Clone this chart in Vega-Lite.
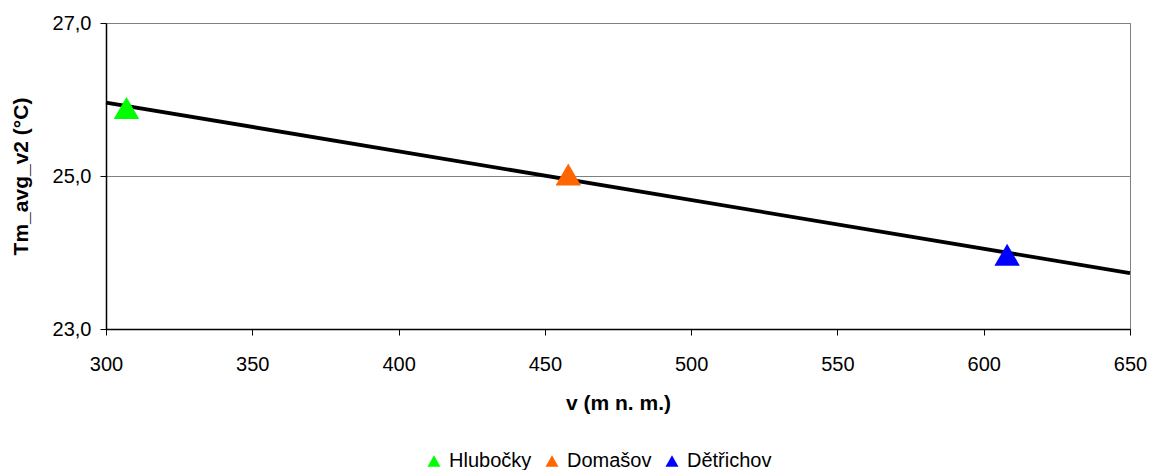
{
  "$schema": "https://vega.github.io/schema/vega-lite/v6.json",
  "width": 1024,
  "height": 306,
  "autosize": {"type": "none"},
  "padding": {"left": 106, "top": 23, "right": 19, "bottom": 141},
  "background": "white",
  "config": {
    "font": "Liberation Sans",
    "view": {"stroke": "#808080", "strokeWidth": 1}
  },
  "datasets": {
    "points": [
      {"station": "Hlubočky", "alt": 307, "temp": 25.89},
      {"station": "Domašov", "alt": 458, "temp": 25.02},
      {"station": "Dětřichov", "alt": 608, "temp": 23.97}
    ],
    "trend": [
      {"alt": 300, "temp": 25.96},
      {"alt": 650, "temp": 23.73}
    ]
  },
  "layer": [
    {
      "data": {"name": "trend"},
      "mark": {"type": "line", "color": "black", "strokeWidth": 3.8},
      "encoding": {
        "x": {
          "field": "alt", "type": "quantitative",
          "scale": {"domain": [300, 650], "nice": false, "zero": false},
          "axis": {
            "title": "v (m n. m.)",
            "values": [300, 350, 400, 450, 500, 550, 600, 650],
            "grid": false,
            "labelFlush": false,
            "labelOverlap": false,
            "domainColor": "black",
            "domainWidth": 1.5,
            "tickColor": "black",
            "tickSize": 6,
            "labelFontSize": 20,
            "labelColor": "black",
            "labelPadding": 19,
            "labelFont": "Liberation Sans",
            "titleFont": "Liberation Sans",
            "titleFontSize": 21,
            "titleFontWeight": "bold",
            "titleColor": "black",
            "titlePadding": 18
          }
        },
        "y": {
          "field": "temp", "type": "quantitative",
          "scale": {"domain": [23, 27], "nice": false, "zero": false},
          "axis": {
            "title": "Tm_avg_v2 (°C)",
            "values": [23, 25, 27],
            "labelExpr": "replace(format(datum.value, '.1f'), '.', ',')",
            "grid": true,
            "labelFlush": false,
            "gridColor": "#808080",
            "gridWidth": 1,
            "domainColor": "black",
            "domainWidth": 1.5,
            "tickColor": "black",
            "tickSize": 6,
            "labelFontSize": 20,
            "labelColor": "black",
            "labelPadding": 9,
            "labelFont": "Liberation Sans",
            "titleFont": "Liberation Sans",
            "titleFontSize": 21,
            "titleFontWeight": "bold",
            "titleColor": "black",
            "titlePadding": 21
          }
        }
      }
    },
    {
      "data": {"name": "points"},
      "mark": {"type": "point", "shape": "triangle-up", "filled": true, "opacity": 1, "size": 650},
      "encoding": {
        "x": {"field": "alt", "type": "quantitative"},
        "y": {"field": "temp", "type": "quantitative"},
        "color": {
          "field": "station", "type": "nominal",
          "scale": {
            "domain": ["Hlubočky", "Domašov", "Dětřichov"],
            "range": ["#00FF00", "#FF6600", "#0000FF"]
          },
          "legend": {
            "title": null,
            "orient": "none",
            "direction": "horizontal",
            "legendX": 318,
            "legendY": 428,
            "symbolType": "triangle-up",
            "symbolSize": 170,
            "symbolOpacity": 1,
            "labelFontSize": 20,
            "labelFont": "Liberation Sans",
            "labelColor": "black",
            "columnPadding": 10,
            "labelOffset": 5
          }
        }
      }
    }
  ]
}
